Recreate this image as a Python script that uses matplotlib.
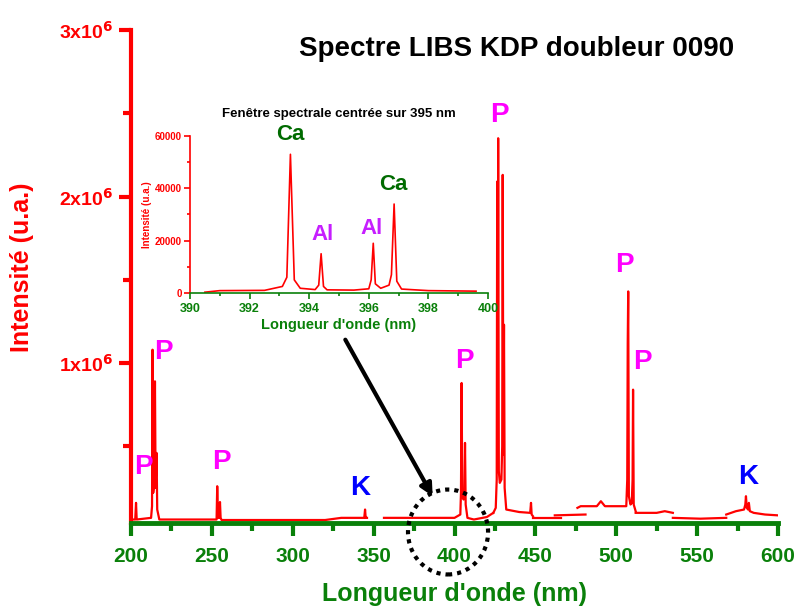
# -*- coding: utf-8 -*-

import matplotlib
matplotlib.use("Agg")
import matplotlib.pyplot as plt
from matplotlib.patches import Ellipse
from matplotlib.ticker import MultipleLocator, FuncFormatter

plt.rcParams["font.family"] = ["Liberation Sans", "DejaVu Sans"]
plt.rcParams["font.weight"] = "bold"

RED = "#ff0000"
GREEN = "#0a800a"
DARKGREEN = "#006b00"
MAGENTA = "#ff00ff"
VIOLET = "#c61eff"
BLUE = "#0000ff"

# main spectrum, one list pair per spectral window (nm, intensity in 1e6 u.a.)
win1_nm = [200.5, 202.6, 203.1, 203.5, 212.4, 213.0, 213.3, 213.7, 214.4, 214.8,
           215.2, 215.8, 216.2, 217.5, 252.9, 253.3, 253.8, 254.6, 255.0, 255.4,
           256.0, 320.0, 330.0, 344.2, 344.7, 345.1, 345.9]
win1_int = [0.06, 0.06, 0.16, 0.06, 0.07, 0.14, 1.08, 0.22, 0.28, 0.89,
            0.25, 0.46, 0.12, 0.06, 0.06, 0.26, 0.07, 0.07, 0.165, 0.07,
            0.057, 0.057, 0.07, 0.07, 0.12, 0.07, 0.07]

win2_nm = [356.4, 380.0, 400.0, 403.6, 404.0, 404.4, 404.8, 405.6, 406.1, 406.5,
           406.9, 408.0, 412.0, 420.0, 424.0]
win2_int = [0.07, 0.07, 0.07, 0.09, 0.22, 0.88, 0.2, 0.18, 0.2, 0.52,
            0.15, 0.07, 0.06, 0.075, 0.1]

win3_nm = [424.0, 425.5, 426.1, 426.4, 426.7, 427.0, 427.4, 428.0, 429.0, 429.5,
           429.8, 430.2, 430.6, 431.0, 432.0, 440.0, 446.8, 447.3, 447.7, 448.5]
win3_int = [0.1, 0.13, 0.3, 2.09, 0.5, 2.35, 0.35, 0.28, 0.3, 0.5,
            2.13, 0.45, 1.23, 0.25, 0.12, 0.105, 0.1, 0.16, 0.09, 0.08]

win4_nm = [448.5, 466.0]
win4_int = [0.07, 0.07]

win5_nm = [462.0, 481.0]
win5_int = [0.085, 0.09]

win6_nm = [476.0, 478.0, 488.0, 490.5, 493.0, 506.2, 506.8, 507.1, 507.4, 507.8,
           508.8, 509.6, 510.1, 510.4, 510.8, 512.0]
win6_int = [0.13, 0.14, 0.14, 0.17, 0.14, 0.14, 0.3, 1.12, 1.43, 0.2,
            0.15, 0.16, 0.3, 0.84, 0.15, 0.11]

win7_nm = [512.0, 525.0, 530.0, 535.0]
win7_int = [0.1, 0.1, 0.11, 0.1]

win8_nm = [535.0, 552.0, 568.0]
win8_int = [0.07, 0.065, 0.07]

win9_nm = [568.0, 574.0, 579.0, 579.8, 580.2, 580.7, 581.5, 582.0, 582.6, 585.0,
           592.0, 600.0]
win9_int = [0.09, 0.11, 0.12, 0.15, 0.2, 0.13, 0.12, 0.16, 0.11, 0.1,
            0.09, 0.085]

# zoomed window around 395 nm
zoom_nm = [390.5, 391.0, 392.5, 393.1, 393.25, 393.37, 393.5, 393.7, 394.2, 394.32,
           394.40, 394.48, 394.6, 395.5, 396.0, 396.08, 396.15, 396.22, 396.4, 396.68,
           396.76, 396.85, 396.94, 397.1, 398.0, 399.6]
zoom_int = [300, 900, 1000, 2500, 6000, 53000, 5000, 1800, 1300, 3000,
            15000, 2500, 1200, 1100, 1600, 5000, 19000, 3500, 1800, 3000,
            7000, 34000, 4500, 1500, 900, 700]

# peak labels in the main plot: (text, nm, intensity 1e6)
main_labels = ["P", "P", "P", "K", "P", "P", "P", "P", "K"]
main_label_nm = [207.4, 219.8, 256.1, 341.5, 406.4, 428.0, 505.3, 516.4, 581.6]
main_label_int = [0.375, 1.066, 0.406, 0.252, 1.015, 2.489, 1.589, 1.006, 0.315]
main_label_col = [MAGENTA, MAGENTA, MAGENTA, BLUE, MAGENTA, MAGENTA, MAGENTA, MAGENTA, BLUE]

inset_labels = ["Ca", "Al", "Al", "Ca"]
inset_label_nm = [393.36, 394.46, 396.1, 396.81]
inset_label_int = [60400, 22200, 24500, 41300]
inset_label_col = [DARKGREEN, VIOLET, VIOLET, DARKGREEN]

windows = [(win1_nm, win1_int), (win2_nm, win2_int), (win3_nm, win3_int),
           (win4_nm, win4_int), (win5_nm, win5_int), (win6_nm, win6_int),
           (win7_nm, win7_int), (win8_nm, win8_int), (win9_nm, win9_int)]

fig = plt.figure(figsize=(7.95, 6.1), dpi=100)
ax = fig.add_axes([0.1648, 0.1426, 0.8138, 0.8082])

for nm, inten in windows:
    ax.plot(nm, [v * 1e6 for v in inten], color=RED, lw=1.6)

ax.set_xlim(200, 600)
ax.set_ylim(0.039e6, 3e6)
ax.spines["top"].set_visible(False)
ax.spines["right"].set_visible(False)
ax.spines["left"].set_color(RED)
ax.spines["bottom"].set_color(GREEN)
ax.spines["left"].set_linewidth(3)
ax.spines["bottom"].set_linewidth(3.5)

ax.xaxis.set_major_locator(MultipleLocator(50))
ax.xaxis.set_minor_locator(MultipleLocator(25))
ax.yaxis.set_major_locator(MultipleLocator(1e6))
ax.yaxis.set_minor_locator(MultipleLocator(0.5e6))
ax.yaxis.set_major_formatter(FuncFormatter(
    lambda v, p: r"%dx10$^{\mathbf{6}}$" % round(v / 1e6) if v > 0 else ""))
ax.tick_params(axis="x", which="both", colors=GREEN, width=3, labelsize=15, pad=8)
ax.tick_params(axis="x", which="major", length=9)
ax.tick_params(axis="x", which="minor", length=6)
ax.tick_params(axis="y", which="both", colors=RED, width=3, labelsize=14, pad=4)
ax.tick_params(axis="y", which="major", length=9)
ax.tick_params(axis="y", which="minor", length=6)
for lab in ax.get_xticklabels() + ax.get_yticklabels():
    lab.set_fontweight("bold")

ax.set_xlabel("Longueur d'onde (nm)", color=GREEN, fontsize=18, fontweight="bold",
              labelpad=12)
ax.set_ylabel("Intensité (u.a.)", color=RED, fontsize=18, fontweight="bold")
ax.yaxis.set_label_coords(-0.150, 0.518)

for t, x, y, c in zip(main_labels, main_label_nm, main_label_int, main_label_col):
    ax.text(x, y * 1e6, t, color=c, fontsize=20, fontweight="bold",
            ha="center", va="center")

fig.text(0.65, 0.92, "Spectre LIBS KDP doubleur 0090", fontsize=20,
         fontweight="bold", ha="center", va="center")

# dotted circle and arrow pointing to the zoomed region
ax.add_patch(Ellipse((396, -0.015e6), 49.5, 0.51e6, fill=False, ec="black",
                     lw=3, ls=(0, (1, 1.2)), clip_on=False, zorder=5))
ax.annotate("", xy=(386.5, 0.2e6), xytext=(332.5, 1.14e6),
            arrowprops=dict(arrowstyle="-|>", color="black", lw=3,
                            mutation_scale=18, shrinkA=0, shrinkB=0))

# inset
axi = fig.add_axes([0.239, 0.5197, 0.3748, 0.2574])
axi.plot(zoom_nm, zoom_int, color=RED, lw=1.2)
axi.set_xlim(390, 400)
axi.set_ylim(0, 60000)
axi.spines["top"].set_visible(False)
axi.spines["right"].set_visible(False)
axi.spines["left"].set_color(RED)
axi.spines["bottom"].set_color(GREEN)
axi.spines["left"].set_linewidth(1.2)
axi.spines["bottom"].set_linewidth(1.2)
axi.xaxis.set_major_locator(MultipleLocator(2))
axi.xaxis.set_minor_locator(MultipleLocator(1))
axi.yaxis.set_major_locator(MultipleLocator(20000))
axi.yaxis.set_minor_locator(MultipleLocator(10000))
axi.tick_params(axis="x", which="both", colors=GREEN, width=1.2, labelsize=9)
axi.tick_params(axis="y", which="both", colors=RED, width=1.2, labelsize=7, pad=2)
axi.tick_params(which="major", length=4)
axi.tick_params(which="minor", length=2.5)
for lab in axi.get_xticklabels() + axi.get_yticklabels():
    lab.set_fontweight("bold")
axi.set_xlabel("Longueur d'onde (nm)", color=GREEN, fontsize=10.5, fontweight="bold",
               labelpad=2)
axi.set_ylabel("Intensité (u.a.)", color=RED, fontsize=7, fontweight="bold",
               labelpad=2)
axi.set_title("Fenêtre spectrale centrée sur 395 nm", fontsize=9.5,
              fontweight="bold", pad=14)
for t, x, y, c in zip(inset_labels, inset_label_nm, inset_label_int, inset_label_col):
    axi.text(x, y, t, color=c, fontsize=16, fontweight="bold",
             ha="center", va="center")

fig.savefig("out.png", dpi=100)
